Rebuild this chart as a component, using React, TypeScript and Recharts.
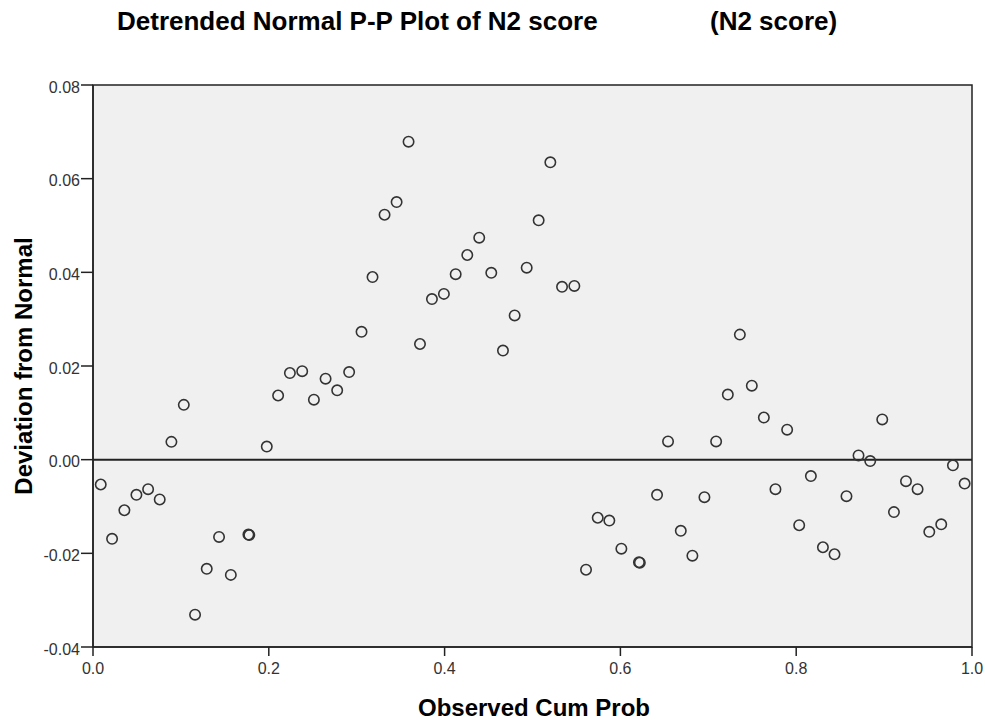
import React from 'react';
import { ScatterChart, Scatter, XAxis, YAxis, ReferenceLine, ReferenceArea } from 'recharts';

// observed cumulative probability of each case
const observedCumProb = [
  0.0088, 0.0217, 0.0357, 0.0494, 0.0627, 0.0759, 0.0892, 0.1033, 0.1161, 0.1294,
  0.1434, 0.1568, 0.1768, 0.1778, 0.1977, 0.2106, 0.224, 0.238, 0.2513, 0.2646,
  0.2778, 0.2914, 0.3055, 0.318, 0.3317, 0.3454, 0.359, 0.372, 0.3856, 0.3992,
  0.4126, 0.4258, 0.4394, 0.4531, 0.4664, 0.4797, 0.4934, 0.507, 0.5203, 0.5336,
  0.5476, 0.5609, 0.5742, 0.5874, 0.6011, 0.6211, 0.6221, 0.6417, 0.6542, 0.6687,
  0.6819, 0.6956, 0.7089, 0.7222, 0.7359, 0.7495, 0.7632, 0.7764, 0.7897, 0.8034,
  0.8167, 0.8304, 0.8436, 0.8572, 0.8709, 0.8842, 0.8979, 0.9112, 0.9249, 0.9381,
  0.9514, 0.965, 0.9783, 0.9916,
];

// deviation from normal for the same cases
const deviation = [
  -0.0053, -0.0169, -0.0108, -0.0075, -0.0063, -0.0085, 0.0038, 0.0117, -0.0331, -0.0233,
  -0.0165, -0.0246, -0.016, -0.0161, 0.0028, 0.0137, 0.0185, 0.0189, 0.0128, 0.0173,
  0.0148, 0.0187, 0.0273, 0.039, 0.0523, 0.055, 0.0679, 0.0247, 0.0343, 0.0354,
  0.0396, 0.0437, 0.0474, 0.0399, 0.0233, 0.0308, 0.041, 0.0511, 0.0635, 0.0369,
  0.0371, -0.0235, -0.0124, -0.013, -0.019, -0.0219, -0.022, -0.0075, 0.0039, -0.0152,
  -0.0205, -0.008, 0.0039, 0.0139, 0.0267, 0.0158, 0.009, -0.0063, 0.0064, -0.014,
  -0.0035, -0.0187, -0.0202, -0.0078, 0.0009, -0.0003, 0.0086, -0.0112, -0.0046, -0.0063,
  -0.0154, -0.0138, -0.0012, -0.0051,
];

const xTicks = [0, 0.2, 0.4, 0.6, 0.8, 1.0];
const yTicks = [-0.04, -0.02, 0, 0.02, 0.04, 0.06, 0.08];

const FONT = '"Liberation Sans", Arial, sans-serif';

const points = observedCumProb.map((x, i) => ({ x, y: deviation[i] }));

const OpenCircle = (props: any) => (
  <circle cx={props.cx} cy={props.cy} r={5.2} fill="none" stroke="#333" strokeWidth={1.6} />
);

export default function App() {
  return (
    <div style={{ position: 'absolute', left: 0, top: 0, width: 985, height: 722, background: '#fff' }}>
      <ScatterChart width={985} height={722} margin={{ top: 85, right: 13, left: 0, bottom: 0 }}>
        <ReferenceArea
          x1={0}
          x2={1}
          y1={-0.04}
          y2={0.08}
          fill="#f0f0f0"
          fillOpacity={1}
          stroke="#222"
          strokeWidth={1.5}
        />
        <XAxis
          type="number"
          dataKey="x"
          domain={[0, 1]}
          ticks={xTicks}
          tickFormatter={(v) => v.toFixed(1)}
          height={75}
          tickSize={9}
          tickMargin={7}
          stroke="#222"
          strokeWidth={1.5}
          tick={{ fill: '#333', fontSize: 16, fontFamily: FONT }}
        />
        <YAxis
          type="number"
          dataKey="y"
          domain={[-0.04, 0.08]}
          ticks={yTicks}
          tickFormatter={(v) => v.toFixed(2)}
          width={93}
          tickSize={12}
          tickMargin={1}
          stroke="#222"
          strokeWidth={1.5}
          tick={{ fill: '#333', fontSize: 16, fontFamily: FONT, dy: 2 }}
        />
        <ReferenceLine y={0} stroke="#222" strokeWidth={2} />
        <Scatter data={points} shape={OpenCircle} isAnimationActive={false} />
      </ScatterChart>
      <svg
        width={985}
        height={722}
        style={{ position: 'absolute', left: 0, top: 0, pointerEvents: 'none' }}
        fontFamily={FONT}
        fontWeight="bold"
      >
        <text x={117} y={30} fontSize={26} fill="#000">Detrended Normal P-P Plot of N2 score</text>
        <text x={710} y={30} fontSize={26} fill="#000">(N2 score)</text>
        <text x={534} y={716} fontSize={24} fill="#000" textAnchor="middle">Observed Cum Prob</text>
        <text transform="translate(32,366) rotate(-90)" fontSize={24} fill="#000" textAnchor="middle">
          Deviation from Normal
        </text>
      </svg>
    </div>
  );
}
